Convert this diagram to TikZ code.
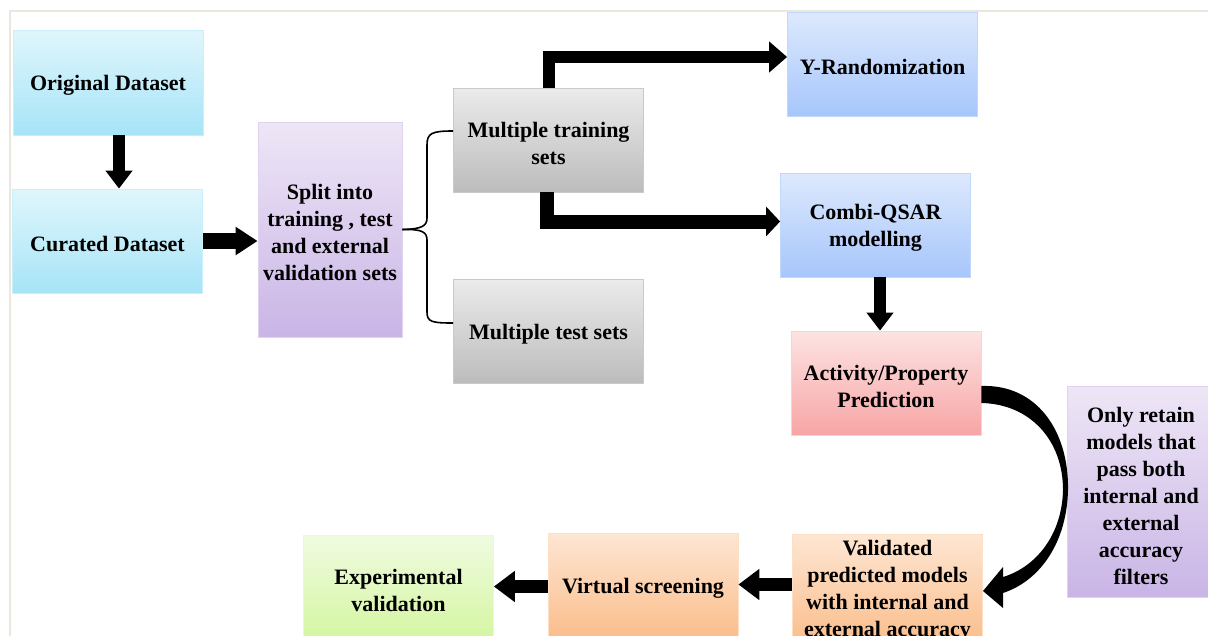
\documentclass[tikz,border=0pt]{standalone}
\usepackage{fontspec}
\setmainfont{Liberation Serif}
\usetikzlibrary{arrows.meta,calc}
\definecolor{cyanT}{HTML}{E0F6FC}\definecolor{cyanB}{HTML}{A6E4F7}
\definecolor{purT}{HTML}{EEE6F6}\definecolor{purB}{HTML}{C9B5E6}
\definecolor{grayT}{HTML}{EBEBEB}\definecolor{grayB}{HTML}{BCBCBC}
\definecolor{bluT}{HTML}{DDE9FD}\definecolor{bluB}{HTML}{A6C6FB}
\definecolor{pinkT}{HTML}{FDE3E3}\definecolor{pinkB}{HTML}{F7A5A5}
\definecolor{oraT}{HTML}{FDE6D3}\definecolor{oraB}{HTML}{FBBE8C}
\definecolor{grnT}{HTML}{F0FBE0}\definecolor{grnB}{HTML}{D4F6A2}
\definecolor{frameC}{HTML}{EAE8DC}
\tikzset{
  box/.style={rectangle, minimum width=190pt, minimum height=104pt, inner sep=0pt,
    line width=0.8pt},
  lbl/.style={font=\fontsize{22}{27}\selectfont\bfseries, align=center, yshift=-3pt},
  cyanbox/.style={box, top color=cyanT, bottom color=cyanB, draw=cyanB!60!white},
  purbox/.style={box, top color=purT, bottom color=purB, draw=purB!60!white},
  graybox/.style={box, top color=grayT, bottom color=grayB, draw=grayB!80!white},
  blubox/.style={box, top color=bluT, bottom color=bluB, draw=bluB!70!white},
  pinkbox/.style={box, top color=pinkT, bottom color=pinkB, draw=pinkB!50!white},
  orabox/.style={box, top color=oraT, bottom color=oraB, draw=oraB!50!white},
  grnbox/.style={box, top color=grnT, bottom color=grnB, draw=grnB!50!white},
  blk/.style={line width=12pt, line join=miter, -{Triangle[length=19pt,width=28pt]}},
  bracep/.style={line width=1.6pt, black}
}
\begin{document}
\begin{tikzpicture}[x=1pt,y=-1pt]
\useasboundingbox (0,0) rectangle (1208,635);
\clip (0,0) rectangle (1208,635);
\fill[white] (0,0) rectangle (1208,635);
\draw[frameC, line width=1.8pt] (1210,11) -- (10,11) -- (10,640);

\node[cyanbox, minimum height=105pt, label={[lbl]center:Original Dataset}] (orig) at (108,82.5) {};
\node[cyanbox, label={[lbl]center:Curated Dataset}] (cur) at (107.5,241) {};
\node[purbox, minimum width=144pt, minimum height=215pt,
  label={[lbl]center:Split into\\training , test\\and external\\validation sets}] (split) at (330,229.5) {};
\node[graybox, label={[lbl]center:Multiple training\\sets}] (train) at (548.5,140) {};
\node[graybox, label={[lbl]center:Multiple test sets}] (test) at (548.5,331) {};
\node[blubox, label={[lbl]center:Y-Randomization}] (yrand) at (882.5,64) {};
\node[blubox, label={[lbl]center:Combi-QSAR\\modelling}] (combi) at (875.5,225) {};
\node[pinkbox, label={[lbl]center:Activity/Property\\Prediction}] (act) at (886,383) {};
\node[purbox, minimum width=148pt, minimum height=211pt,
  label={[lbl, yshift=-1pt]center:Only retain\\models that\\pass both\\internal and\\external\\accuracy\\filters}] (retain) at (1141,491.5) {};
\node[orabox, minimum height=108pt,
  label={[lbl]center:Validated\\predicted models\\with internal and\\external accuracy}] (val) at (887.5,588) {};
\node[orabox, label={[lbl]center:Virtual screening}] (virt) at (643,585) {};
\node[grnbox, label={[lbl]center:Experimental\\validation}] (exp) at (398.5,587) {};

% straight arrows
\draw[blk, -{Triangle[length=18pt,width=26pt]}] ([xshift=11pt]orig.south) -- ([xshift=11pt]orig.south |- cur.north);
\draw[blk, line width=16pt, -{Triangle[length=22pt,width=27pt]}] (cur.east) -- (cur.east -| split.west);
\draw[blk, -{Triangle[length=18pt,width=30pt]}] (train.north) |- ([yshift=7pt]yrand.west);
\draw[blk, line width=14pt, -{Triangle[length=14pt,width=29pt]}] ([xshift=-2pt]train.south) |- ([yshift=3.5pt]combi.west);
\draw[blk, -{Triangle[length=18pt,width=26pt]}] ([xshift=4.5pt]combi.south) -- ([xshift=4.5pt]combi.south |- act.north);
\draw[blk, line width=13pt, -{Triangle[length=21pt,width=30pt]}] ([yshift=3.5pt]val.west) -- ([yshift=3.5pt]val.west -| virt.east);
\draw[blk, line width=13pt, -{Triangle[length=21pt,width=30pt]}] ([yshift=-1.5pt]virt.west) -- ([yshift=-1.5pt]virt.west -| exp.east);

% brace
\draw[bracep] (train.west |- 0,131) .. controls (432,131) and (427,133) .. (427,145) -- (427,218)
  .. controls (427,226) and (422,229) .. (split.east);
\draw[bracep] (split.east) .. controls (422,229) and (427,232) .. (427,240) -- (427,312)
  .. controls (427,322) and (432,323) .. (test.west |- 0,323);

% curved arrow
\fill[black] (act.east |- 0,386) .. controls (1036,384) and (1069,430) .. (1068,490)
  .. controls (1067,540) and (1042,580) .. (1003,593) -- (1003,608) -- (983,591) -- (1003,567)
  -- (1003,577) .. controls (1036,567) and (1062,535) .. (1063,490)
  .. controls (1063,440) and (1030,404) .. (act.east |- 0,403) -- cycle;
\end{tikzpicture}
\end{document}
